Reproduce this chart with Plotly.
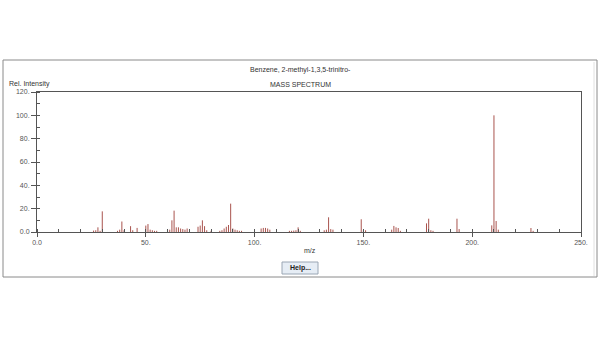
import plotly.graph_objects as go

# Data: m/z and relative intensity
mz = [26, 27, 28, 29, 30, 37, 38, 39, 40, 43, 44, 46, 50, 51, 52, 53, 54, 55,
      60, 61, 62, 63, 64, 65, 66, 67, 68, 69, 74, 75, 76, 77, 78, 80,
      84, 85, 86, 87, 88, 89, 90, 91, 92, 93, 94,
      103, 104, 105, 106, 107, 116, 117, 118, 119, 120, 121,
      132, 133, 134, 135, 136, 149, 150, 151,
      163, 164, 165, 166, 167, 179, 180, 181, 182, 193, 194,
      209, 210, 211, 212, 227, 228]
intensity = [1.2, 1.5, 4.0, 1.0, 17.7, 1.0, 2.0, 9.0, 1.5, 5.0, 1.5, 3.5, 5.5, 6.8, 2.0, 1.5, 1.0, 1.0,
             1.0, 2.0, 10.0, 18.3, 4.0, 4.0, 3.0, 2.5, 2.0, 3.0, 4.5, 5.5, 10.0, 5.0, 1.5, 1.0,
             1.0, 1.5, 3.0, 4.5, 6.0, 24.3, 3.0, 2.0, 1.5, 1.0, 1.0,
             3.0, 3.5, 3.5, 3.0, 2.0, 1.0, 1.0, 1.2, 1.5, 4.0, 1.0,
             1.5, 2.0, 12.6, 2.5, 2.0, 10.9, 1.5, 1.5,
             2.0, 5.2, 4.0, 3.4, 1.0, 7.4, 11.4, 1.5, 1.0, 11.4, 2.5,
             5.7, 100.0, 9.4, 2.0, 3.4, 1.0]

x_ticks = [0, 50, 100, 150, 200, 250]
x_tick_labels = ["0.0", "50.", "100.", "150.", "200.", "250."]
y_ticks = [0, 20, 40, 60, 80, 100, 120]
y_tick_labels = ["0.0", "20.", "40.", "60.", "80.", "100.", "120."]

title_text = "Benzene, 2-methyl-1,3,5-trinitro-"
subtitle_text = "MASS SPECTRUM"

# Build stick lines from the data
xs, ys = [], []
for m, v in zip(mz, intensity):
    xs += [m, m, None]
    ys += [0, v, None]

W, H = 600, 338
L, R, T, B = 37, 19, 92, 106
PW, PH = W - L - R, H - T - B

def px(x):
    return (x - L) / PW

def py(y):
    return (H - B - y) / PH

fig = go.Figure()
fig.add_trace(go.Scatter(x=xs, y=ys, mode="lines",
                         line=dict(color="#a9544e", width=1),
                         hoverinfo="skip", showlegend=False))

axis_font = dict(family="Liberation Sans, Arial, sans-serif", size=7, color="#555555")

fig.update_layout(
    width=W, height=H,
    margin=dict(l=L, r=R, t=T, b=B, pad=0),
    paper_bgcolor="white", plot_bgcolor="white",
    font=axis_font,
    xaxis=dict(range=[0, 250], showgrid=False, zeroline=False,
               showline=True, linecolor="#555555", linewidth=1, mirror=True,
               tickvals=x_ticks, ticktext=x_tick_labels,
               ticks="outside", ticklen=4, tickcolor="#555555",
               minor=dict(dtick=10, ticks="inside", ticklen=3, tickcolor="#555555"),
               tickfont=axis_font),
    yaxis=dict(range=[0, 120], showgrid=False, zeroline=False,
               showline=True, linecolor="#555555", linewidth=1, mirror=True,
               tickvals=y_ticks, ticktext=y_tick_labels,
               ticks="outside", ticklen=5, tickcolor="#555555",
               minor=dict(dtick=10, ticks="inside", ticklen=3, tickcolor="#555555"),
               tickfont=axis_font),
)

txt_font = dict(family="Liberation Sans, Arial, sans-serif", size=7, color="#333333")
ann = [
    dict(x=px(300), y=py(70), text=title_text),
    dict(x=px(300), y=py(84), text=subtitle_text),
    dict(x=px(310), y=py(250), text="m/z"),
]
for a in ann:
    fig.add_annotation(xref="paper", yref="paper", x=a["x"], y=a["y"], text=a["text"],
                       showarrow=False, xanchor="center", yanchor="middle", font=txt_font)
fig.add_annotation(xref="paper", yref="paper", x=px(7), y=py(84), text="Rel. Intensity",
                   showarrow=False, xanchor="left", yanchor="middle", font=txt_font)

# Outer frame
fig.add_shape(type="rect", xref="paper", yref="paper",
              x0=px(3), x1=px(597), y0=py(277), y1=py(60),
              line=dict(color="#8a8a8a", width=1), fillcolor="rgba(0,0,0,0)", layer="below")
fig.add_shape(type="line", xref="paper", yref="paper",
              x0=px(594), x1=px(594), y0=py(276), y1=py(62),
              line=dict(color="#e0e0e0", width=1), layer="below")

# Help button
fig.add_shape(type="rect", xref="paper", yref="paper",
              x0=px(282), x1=px(318), y0=py(274), y1=py(262),
              line=dict(color="#9aa6b4", width=1), fillcolor="#e6edf5", layer="above")
fig.add_annotation(xref="paper", yref="paper", x=px(300), y=py(268), text="<b>Help...</b>",
                   showarrow=False, xanchor="center", yanchor="middle",
                   font=dict(family="Liberation Sans, Arial, sans-serif", size=7, color="#222222"))

fig.write_html("out.html")
